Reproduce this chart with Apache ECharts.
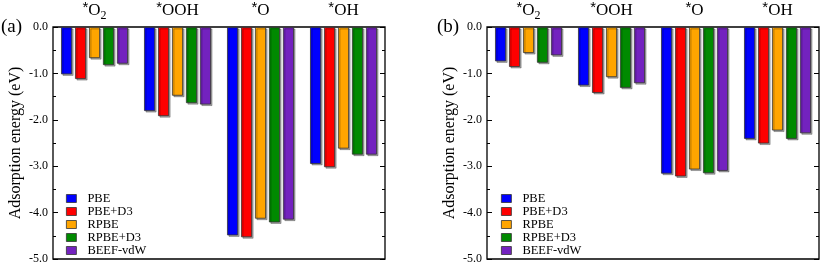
<!DOCTYPE html>
<html><head><meta charset="utf-8">
<script src="https://cdn.jsdelivr.net/npm/echarts@6/dist/echarts.min.js"></script>
<style>html,body{margin:0;padding:0;background:#fff}#c{width:830px;height:266px}</style>
</head><body><div id="c"></div>
<script>
const categories = ['O2', 'OOH', 'O', 'OH'];
const methods = ['PBE', 'PBE+D3', 'RPBE', 'RPBE+D3', 'BEEF-vdW'];
const colors = ['#0000ff', '#ff0000', '#ffa500', '#008a00', '#7322bf'];
const yTicks = [0, -1, -2, -3, -4, -5];
// panel (a) values, one array per method (across categories)
const a_PBE    = [-1.02, -1.81, -4.49, -2.95];
const a_PBED3  = [-1.12, -1.92, -4.53, -3.02];
const a_RPBE   = [-0.67, -1.48, -4.13, -2.62];
const a_RPBED3 = [-0.82, -1.64, -4.21, -2.75];
const a_BEEF   = [-0.79, -1.67, -4.15, -2.75];
// panel (b) values
const b_PBE    = [-0.74, -1.26, -3.16, -2.41];
const b_PBED3  = [-0.86, -1.42, -3.22, -2.51];
const b_RPBE   = [-0.56, -1.08, -3.07, -2.23];
const b_RPBED3 = [-0.77, -1.31, -3.15, -2.41];
const b_BEEF   = [-0.61, -1.21, -3.10, -2.29];
const panelA = [a_PBE, a_PBED3, a_RPBE, a_RPBED3, a_BEEF];
const panelB = [b_PBE, b_PBED3, b_RPBE, b_RPBED3, b_BEEF];

const serif = 'Liberation Serif';
const grids = [
  {left: 53, right: 445, top: 26, bottom: 7},
  {left: 487, right: 11, top: 25, bottom: 7}
];
const xAxes = [], yAxes = [], series = [], legends = [], titles = [];
grids.forEach((g, i) => {
  g.show = true; g.borderColor = '#000'; g.borderWidth = 1.3; g.backgroundColor = 'transparent';
  xAxes.push({
    type: 'category', gridIndex: i, data: categories, position: 'top',
    axisLine: {show: false}, axisTick: {show: false},
    axisLabel: {
      margin: 5, interval: 0,
      formatter: v => '{s|*}' + v.replace(/(\d+)/g, '{sub|$1}').replace(/^([^{]+)/, '{t|$1}'),
      rich: {
        s: {fontFamily: 'Liberation Sans', fontSize: 15, color: '#000', verticalAlign: 'top', lineHeight: 22, padding: [0, 0, 7, 0]},
        t: {fontFamily: serif, fontSize: 17, color: '#000', lineHeight: 22},
        sub: {fontFamily: serif, fontSize: 12, color: '#000', lineHeight: 22, verticalAlign: 'bottom', padding: [6, 0, 0, 0]}
      }
    }
  });
  const yCommon = {
    type: 'value', gridIndex: i, min: -5, max: 0, interval: 1,
    axisLine: {show: false}, splitLine: {show: false},
    axisTick: {show: true, inside: true, length: 5, lineStyle: {color: '#000', width: 1}},
    minorTick: {show: true, splitNumber: 2, length: 3, lineStyle: {color: '#000', width: 1}}
  };
  yAxes.push(Object.assign({}, yCommon, {
    position: 'left',
    name: 'Adsorption energy (eV)', nameLocation: 'middle', nameGap: 29,
    nameTextStyle: {fontFamily: serif, fontSize: 16, color: '#000'},
    axisLabel: {margin: 5, fontFamily: serif, fontSize: 12, color: '#000',
      formatter: v => v.toFixed(1)}
  }));
  yAxes.push(Object.assign({}, yCommon, {position: 'right', axisLabel: {show: false}}));
  const vals = i === 0 ? panelA : panelB;
  methods.forEach((m, k) => {
    series.push({
      type: 'bar', name: m, xAxisIndex: i, yAxisIndex: i * 2, data: vals[k],
      barWidth: 11, barGap: '27%',
      itemStyle: {color: colors[k], borderColor: '#333', borderWidth: 0.8,
        shadowColor: 'rgba(0,0,0,0.35)', shadowOffsetX: 1.5, shadowOffsetY: 1.5, shadowBlur: 0}
    });
  });
  legends.push({
    orient: 'vertical', left: i === 0 ? 66 : 501, top: 192, height: 200, padding: 0,
    data: methods.map(n => ({name: n, icon: 'rect'})),
    itemWidth: 10, itemHeight: 8, itemGap: 0,
    itemStyle: {shadowColor: 'transparent', borderColor: '#333', borderWidth: 0.8},
    textStyle: {fontFamily: serif, fontSize: 12.5, color: '#000', lineHeight: 12, padding: [0, 0, 0, 6]}
  });
  titles.push({
    text: i === 0 ? '(a)' : '(b)', left: i === 0 ? -4 : 432, top: 13,
    textStyle: {fontFamily: serif, fontSize: 19, fontWeight: 'normal', color: '#000'}
  });
});

const chart = echarts.init(document.getElementById('c'), null, {renderer: 'canvas'});
chart.setOption({
  animation: false,
  title: titles,
  grid: grids, xAxis: xAxes, yAxis: yAxes, series: series, legend: legends
});
</script></body></html>
